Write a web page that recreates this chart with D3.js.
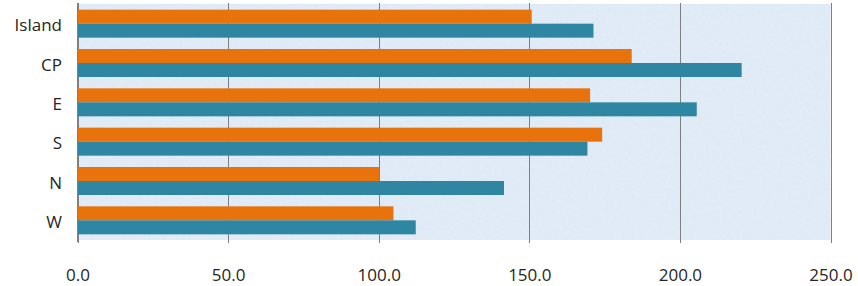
<!DOCTYPE html>
<html>
<head>
<meta charset="utf-8">
<script src="https://cdn.jsdelivr.net/npm/d3@7"></script>
<style>
  html, body { margin: 0; padding: 0; background: #ffffff; }
  svg { display: block; }
  text { font-family: "Open Sans", sans-serif; fill: #262626; }
</style>
</head>
<body>
<svg id="chart" width="858" height="286"></svg>
<script>
const categories = ["Island", "CP", "E", "S", "N", "W"];
const seriesNames = ["Series A", "Series B"];
const seriesA = [150.8, 184.0, 170.2, 174.2, 100.1, 104.9];
const seriesB = [171.3, 220.5, 205.6, 169.3, 141.6, 112.3];
const xTicks = [0, 50, 100, 150, 200, 250];
const colors = ["#E8720C", "#2F86A2"];

const svg = d3.select("#chart");
const plotLeft = 77.5, plotRight = 830.5, plotTop = 4, plotBottom = 240;

const x = d3.scaleLinear().domain([0, 250]).range([plotLeft, plotRight]);
const y = d3.scaleBand().domain(categories).range([plotTop, plotBottom])
  .paddingInner(0.288).paddingOuter(0.144);
const ySub = d3.scaleBand().domain(seriesNames).range([0, y.bandwidth()]);

// subtle paper-like texture for the plot background
const defs = svg.append("defs");
const f = defs.append("filter").attr("id", "tex").attr("x", 0).attr("y", 0)
  .attr("width", 1).attr("height", 1);
f.append("feTurbulence").attr("type", "fractalNoise").attr("baseFrequency", 0.35)
  .attr("numOctaves", 2).attr("seed", 3).attr("result", "noise");
f.append("feColorMatrix").attr("in", "noise").attr("type", "matrix")
  .attr("values", "0 0 0 0 1  0 0 0 0 1  0 0 0 0 1  0 0 0 0.22 0").attr("result", "w");
f.append("feComposite").attr("in", "w").attr("in2", "SourceGraphic").attr("operator", "in").attr("result", "wc");
f.append("feMerge").call(m => { m.append("feMergeNode").attr("in", "SourceGraphic"); m.append("feMergeNode").attr("in", "wc"); });

// plot background
svg.append("rect")
  .attr("x", plotLeft).attr("y", plotTop)
  .attr("width", plotRight - plotLeft).attr("height", plotBottom - plotTop)
  .attr("fill", "#dce8f5")
  .attr("filter", "url(#tex)");

// gridlines / axis
const xAxis = d3.axisBottom(x).tickValues(xTicks)
  .tickSize(-(plotBottom - plotTop) - 4)
  .tickFormat(d3.format(".1f"));
const gx = svg.append("g").attr("transform", `translate(0,${plotBottom + 3})`).call(xAxis);
gx.select(".domain").remove();
gx.selectAll(".tick line").attr("stroke", "#7f7f7f").attr("stroke-width", 1)
  .attr("shape-rendering", "crispEdges");
gx.selectAll(".tick text")
  .attr("y", 26)
  .style("font-family", "'Open Sans', sans-serif")
  .style("font-size", "17px").attr("fill", "#262626");

const data = categories.map((c, i) => ({ cat: c, vals: [seriesA[i], seriesB[i]] }));

const groups = svg.append("g").selectAll("g").data(data).join("g")
  .attr("transform", d => `translate(0,${y(d.cat)})`);
groups.selectAll("rect").data(d => d.vals.map((v, j) => ({ v, s: seriesNames[j], j })))
  .join("rect")
  .attr("x", x(0))
  .attr("y", d => ySub(d.s))
  .attr("width", d => x(d.v) - x(0))
  .attr("height", ySub.bandwidth())
  .attr("fill", d => colors[d.j]);

// y axis line
svg.append("line").attr("x1", plotLeft).attr("x2", plotLeft)
  .attr("y1", plotTop - 1).attr("y2", plotBottom + 2)
  .attr("stroke", "#7f7f7f").attr("shape-rendering", "crispEdges");

// category labels
svg.append("g").selectAll("text").data(categories).join("text")
  .attr("x", 62)
  .attr("y", d => y(d) + y.bandwidth() / 2 + 1)
  .attr("text-anchor", "end")
  .attr("dominant-baseline", "central")
  .style("font-size", "17px")
  .text(d => d);
</script>
</body>
</html>
